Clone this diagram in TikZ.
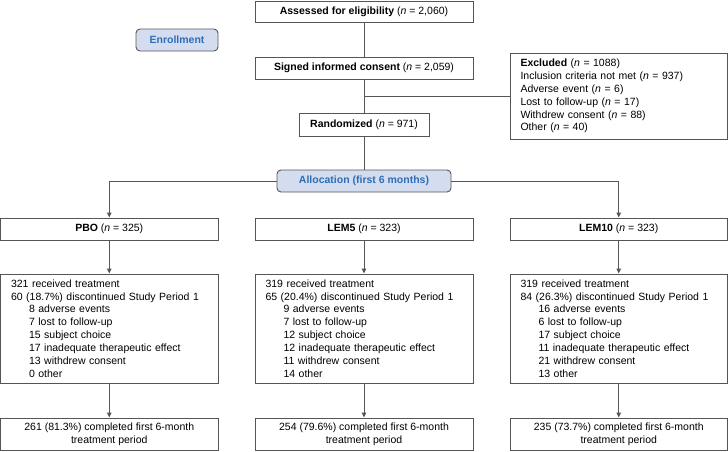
\documentclass[tikz,border=0pt]{standalone}
\usepackage{fontspec}
\setmainfont{Liberation Sans}
\usetikzlibrary{arrows.meta}
\definecolor{linegray}{HTML}{555555}
\definecolor{phasefill}{HTML}{D4DDF0}
\definecolor{phasetext}{HTML}{2E6DB5}
\tikzset{
  box/.style={draw=linegray, line width=0.9pt, fill=white, inner sep=0pt, align=center, font=\fontsize{10.5}{12.86}\selectfont},
  phase/.style={draw=linegray, line width=0.9pt, fill=phasefill, rounded corners=4pt, inner sep=0pt, font=\fontsize{10.5}{12.86}\selectfont\bfseries, text=phasetext},
  listbox/.style={draw=linegray, line width=0.9pt, fill=white, inner xsep=10.5pt, inner ysep=0pt, align=left, font=\fontsize{10.5}{12.86}\selectfont},
  conn/.style={draw=linegray, line width=0.9pt},
  arr/.style={conn, -{Triangle[length=5pt,width=4.5pt]}}
}
\newcommand{\nn}{\textit{n}}
\newcommand{\ind}{\hspace*{18pt}}
\begin{document}
\begin{tikzpicture}[x=1pt,y=-1pt]
\useasboundingbox (0,0) rectangle (728,451);
% enrollment
\node[box, minimum width=218pt, minimum height=21pt] (assess) at (364,11.5) {\textbf{Assessed for eligibility} (\nn{} = 2,060)};
\node[phase, minimum width=82pt, minimum height=22pt] (enroll) at (177,40) {Enrollment};
\node[box, minimum width=218pt, minimum height=22pt] (signed) at (364,68) {\textbf{Signed informed consent} (\nn{} = 2,059)};
\node[listbox, text width=196pt, minimum height=86pt] (excl) at (618.5,96) {\textbf{Excluded} (\nn{} = 1088)\\
Inclusion criteria not met (\nn{} = 937)\\
Adverse event (\nn{} = 6)\\
Lost to follow-up (\nn{} = 17)\\
Withdrew consent (\nn{} = 88)\\
Other (\nn{} = 40)};
\node[box, minimum width=130pt, minimum height=23pt] (rand) at (364,124.5) {\textbf{Randomized} (\nn{} = 971)};
\node[phase, minimum width=174pt, minimum height=22pt] (alloc) at (364,181) {Allocation (first 6 months)};
% groups
\node[box, minimum width=217.5pt, minimum height=22pt] (pbo) at (109.25,229) {\textbf{PBO} (\nn{} = 325)};
\node[box, minimum width=218pt, minimum height=22pt] (lemfive) at (364,229) {\textbf{LEM5} (\nn{} = 323)};
\node[box, minimum width=217.5pt, minimum height=22pt] (lemten) at (618.75,229) {\textbf{LEM10} (\nn{} = 323)};
% details
\node[listbox, text width=196.5pt, minimum height=109pt] (pbod) at (109.25,328.5) {321 received treatment\\
60 (18.7\%) discontinued Study Period 1\\
\ind 8 adverse events\\
\ind 7 lost to follow-up\\
\ind 15 subject choice\\
\ind 17 inadequate therapeutic effect\\
\ind 13 withdrew consent\\
\ind 0 other};
\node[listbox, text width=197pt, minimum height=109pt] (lemfived) at (364,328.5) {319 received treatment\\
65 (20.4\%) discontinued Study Period 1\\
\ind 9 adverse events\\
\ind 7 lost to follow-up\\
\ind 12 subject choice\\
\ind 12 inadequate therapeutic effect\\
\ind 11 withdrew consent\\
\ind 14 other};
\node[listbox, text width=196.5pt, minimum height=109pt] (lemtend) at (618.75,328.5) {319 received treatment\\
84 (26.3\%) discontinued Study Period 1\\
\ind 16 adverse events\\
\ind 6 lost to follow-up\\
\ind 17 subject choice\\
\ind 11 inadequate therapeutic effect\\
\ind 21 withdrew consent\\
\ind 13 other};
% completion
\node[box, minimum width=217.5pt, minimum height=32pt] (pboc) at (109.25,434) {261 (81.3\%) completed first 6-month\\treatment period};
\node[box, minimum width=218pt, minimum height=32pt] (lemfivec) at (364,434) {254 (79.6\%) completed first 6-month\\treatment period};
\node[box, minimum width=217.5pt, minimum height=32pt] (lemtenc) at (618.75,434) {235 (73.7\%) completed first 6-month\\treatment period};
% connectors
\draw[conn] (assess) -- (signed);
\draw[conn] (signed) -- (rand);
\draw[conn] (signed.south |- excl.west) -- (excl.west);
\draw[conn] (rand) -- (alloc);
\draw[arr] (alloc.west) -| (pbo.north);
\draw[arr] (alloc.east) -| (lemten.north);
\draw[arr] (pbo) -- (pbod);
\draw[arr] (lemfive) -- (lemfived);
\draw[arr] (lemten) -- (lemtend);
\draw[arr] (pbod) -- (pboc);
\draw[arr] (lemfived) -- (lemfivec);
\draw[arr] (lemtend) -- (lemtenc);
\end{tikzpicture}
\end{document}
